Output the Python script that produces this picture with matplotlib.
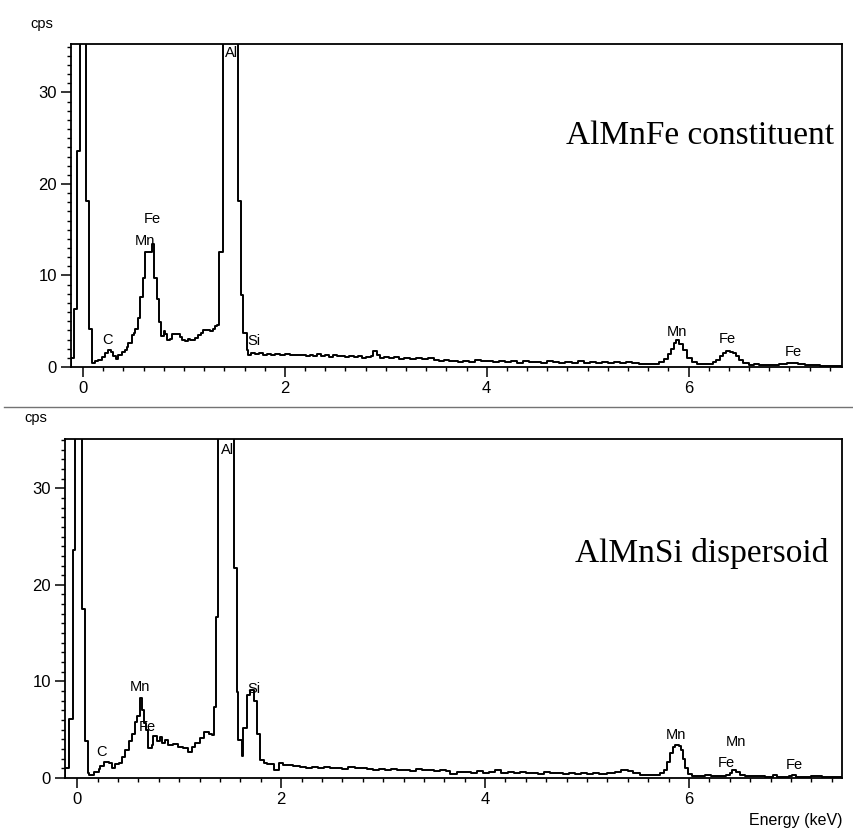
import numpy as np
import matplotlib
matplotlib.use("Agg")
import matplotlib.pyplot as plt
from matplotlib.ticker import MultipleLocator
from matplotlib.lines import Line2D

plt.rcParams['font.family'] = ['Liberation Sans', 'DejaVu Sans']

# --- AlMnFe constituent spectrum (step edges in keV, counts in cps)
e_fe = [-0.16, -0.115, -0.09, -0.056, -0.03, 0.03, 0.062, 0.092, 0.119, 0.15,
        0.185, 0.218, 0.251, 0.28, 0.30, 0.33, 0.35, 0.383, 0.415, 0.432,
        0.449, 0.482, 0.50, 0.515, 0.548, 0.564, 0.591, 0.614, 0.68, 0.703,
        0.729, 0.752, 0.772, 0.80, 0.812, 0.835, 0.86, 0.878, 0.92, 0.96,
        0.985, 1.01, 1.035, 1.06, 1.085, 1.109, 1.142, 1.165, 1.191, 1.225,
        1.257, 1.29, 1.307, 1.323, 1.35, 1.383, 1.538, 1.561, 1.587, 1.62,
        1.637, 1.66, 1.70, 1.74, 1.78, 1.82, 1.86, 1.90, 1.95, 2.00,
        2.05, 2.10, 2.15, 2.21, 2.25, 2.28, 2.32, 2.36, 2.40, 2.44,
        2.48, 2.52, 2.56, 2.60, 2.64, 2.68, 2.72, 2.76, 2.80, 2.85,
        2.87, 2.91, 2.94, 2.98, 3.03, 3.08, 3.13, 3.18, 3.24, 3.30,
        3.36, 3.42, 3.48, 3.53, 3.58, 3.63, 3.68, 3.72, 3.76, 3.82,
        3.88, 3.94, 4.00, 4.06, 4.12, 4.18, 4.24, 4.30, 4.36, 4.42,
        4.48, 4.54, 4.60, 4.66, 4.72, 4.78, 4.84, 4.90, 4.96, 5.02,
        5.08, 5.14, 5.20, 5.26, 5.32, 5.38, 5.44, 5.51, 5.71, 5.76,
        5.80, 5.83, 5.86, 5.88, 5.91, 5.94, 5.98, 6.03, 6.08, 6.12,
        6.20, 6.24, 6.27, 6.31, 6.34, 6.37, 6.41, 6.44, 6.47, 6.50,
        6.54, 6.60, 6.65, 6.70, 6.80, 6.90, 6.98, 7.08, 7.15, 7.30, 7.52]
c_fe = [0, 1.0, 6.3, 23.6, 40, 18.1, 4.2, 0.4, 0.6, 0.8,
        1.1, 1.5, 1.9, 1.6, 1.2, 0.9, 1.3, 1.6, 1.8, 2.2,
        2.6, 3.5, 3.7, 4.2, 5.3, 7.6, 9.7, 12.6, 13.4, 9.7,
        7.4, 4.9, 3.4, 3.9, 3.6, 3.0, 3.1, 3.6, 3.6, 3.3,
        3.0, 2.8, 3.1, 3.0, 2.9, 3.2, 3.5, 3.7, 4.0, 4.0,
        3.9, 4.2, 4.5, 4.6, 12.6, 40, 18.1, 7.9, 3.7, 1.9,
        1.3, 1.5, 1.4, 1.5, 1.35, 1.45, 1.3, 1.4, 1.35, 1.4,
        1.3, 1.35, 1.3, 1.2, 1.35, 1.15, 1.4, 1.2, 1.3, 1.1,
        1.3, 1.2, 1.25, 1.1, 1.2, 1.05, 1.15, 1.0, 1.1, 1.25,
        1.7, 1.3, 1.0, 1.1, 0.95, 1.05, 0.9, 1.0, 0.9, 1.0,
        0.85, 0.95, 0.8, 0.7, 0.75, 0.6, 0.7, 0.5, 0.65, 0.55,
        0.75, 0.6, 0.7, 0.55, 0.65, 0.5, 0.6, 0.45, 0.6, 0.5,
        0.55, 0.45, 0.6, 0.5, 0.4, 0.55, 0.45, 0.6, 0.4, 0.55,
        0.45, 0.5, 0.4, 0.55, 0.45, 0.5, 0.4, 0.3, 0.5, 0.9,
        1.4, 2.0, 2.6, 2.9, 2.5, 1.8, 1.0, 0.5, 0.3, 0.35,
        0.3, 0.5, 0.8, 1.2, 1.5, 1.7, 1.65, 1.5, 1.2, 0.8,
        0.4, 0.2, 0.3, 0.2, 0.25, 0.3, 0.45, 0.35, 0.2, 0.15, 0.15]

# --- AlMnSi dispersoid spectrum
e_si = [-0.16, -0.118, -0.085, -0.042, -0.02, 0.046, 0.078, 0.101, 0.111, 0.16,
        0.209, 0.225, 0.258, 0.307, 0.34, 0.373, 0.405, 0.438, 0.471, 0.503,
        0.536, 0.569, 0.591, 0.611, 0.634, 0.65, 0.676, 0.693, 0.732, 0.748,
        0.781, 0.807, 0.83, 0.863, 0.895, 0.944, 0.993, 1.042, 1.085, 1.124,
        1.157, 1.206, 1.239, 1.288, 1.32, 1.337, 1.363, 1.385, 1.542, 1.566,
        1.575, 1.614, 1.63, 1.664, 1.696, 1.738, 1.762, 1.794, 1.827, 1.86,
        1.925, 1.975, 2.02, 2.08, 2.12, 2.18, 2.24, 2.30, 2.36, 2.42,
        2.48, 2.54, 2.60, 2.66, 2.72, 2.78, 2.84, 2.90, 2.96, 3.02,
        3.08, 3.14, 3.20, 3.26, 3.32, 3.38, 3.44, 3.50, 3.56, 3.62,
        3.66, 3.72, 3.80, 3.86, 3.92, 3.98, 4.04, 4.10, 4.16, 4.22,
        4.28, 4.34, 4.40, 4.46, 4.52, 4.58, 4.64, 4.70, 4.76, 4.82,
        4.88, 4.94, 5.00, 5.06, 5.12, 5.20, 5.27, 5.33, 5.40, 5.45,
        5.52, 5.60, 5.68, 5.72, 5.75, 5.78, 5.81, 5.84, 5.86, 5.90,
        5.92, 5.94, 5.96, 5.99, 6.03, 6.10, 6.16, 6.22, 6.30, 6.36,
        6.40, 6.42, 6.46, 6.50, 6.55, 6.65, 6.75, 6.82, 6.86, 6.98,
        7.01, 7.05, 7.20, 7.30, 7.52]
c_si = [0, 1.0, 6.1, 23.6, 40, 17.5, 3.8, 0.5, 0.3, 0.65,
        0.9, 1.2, 1.7, 1.6, 1.0, 1.4, 1.5, 2.2, 2.9, 3.8,
        4.6, 5.8, 6.4, 8.3, 7.0, 5.7, 5.0, 3.1, 3.4, 4.3,
        3.8, 4.2, 3.6, 3.9, 3.4, 3.5, 3.2, 3.1, 2.7, 3.2,
        3.6, 4.1, 4.8, 4.6, 4.5, 7.3, 16.7, 40, 21.7, 8.9,
        3.9, 2.3, 5.2, 8.6, 9.1, 8.0, 4.6, 1.9, 1.5, 1.4,
        0.8, 1.5, 1.35, 1.3, 1.2, 1.15, 1.05, 1.15, 1.0, 1.1,
        1.0, 1.05, 0.95, 1.1, 1.0, 1.05, 0.95, 0.85, 0.95, 0.8,
        0.9, 0.8, 0.85, 0.75, 0.9, 0.8, 0.85, 0.75, 0.8, 0.7,
        0.4, 0.6, 0.65, 0.55, 0.7, 0.55, 0.65, 0.8, 0.55, 0.6,
        0.5, 0.6, 0.5, 0.55, 0.45, 0.6, 0.5, 0.55, 0.45, 0.55,
        0.45, 0.5, 0.4, 0.5, 0.45, 0.5, 0.65, 0.8, 0.7, 0.5,
        0.35, 0.3, 0.35, 0.5, 0.8, 1.7, 2.6, 3.2, 3.4, 3.3,
        2.9, 2.0, 1.0, 0.4, 0.25, 0.2, 0.3, 0.2, 0.25, 0.35,
        0.5, 0.8, 0.65, 0.35, 0.2, 0.25, 0.15, 0.3, 0.15, 0.2,
        0.35, 0.15, 0.2, 0.15, 0.15]

# peak labels: (text, energy, cps)
lab_fe = ["C", "Fe", "Mn", "Al", "Si", "Mn", "Fe", "Fe"]
lab_fe_e = [0.245, 0.688, 0.614, 1.47, 1.69, 5.88, 6.38, 7.04]
lab_fe_y = [2.95, 16.2, 13.8, 34.3, 2.85, 3.8, 3.1, 1.67]

lab_si = ["C", "Mn", "Fe", "Al", "Si", "Mn", "Mn", "Fe", "Fe"]
lab_si_e = [0.242, 0.618, 0.691, 1.475, 1.728, 5.87, 6.46, 6.37, 7.03]
lab_si_y = [2.64, 9.38, 5.3, 34.0, 9.2, 4.46, 3.76, 1.52, 1.35]

fig = plt.figure(figsize=(8.54, 8.31), dpi=100)
ax1 = fig.add_axes([0.0831, 0.5584, 0.9028, 0.3887])
ax2 = fig.add_axes([0.0761, 0.0638, 0.9098, 0.4079])


def style(ax, xmax, ymax):
    ax.set_xlim(-0.12, xmax)
    ax.set_ylim(0, ymax)
    ax.set_xticks([0, 2, 4, 6])
    ax.set_yticks([0, 10, 20, 30])
    ax.xaxis.set_minor_locator(MultipleLocator(0.2))
    ax.yaxis.set_minor_locator(MultipleLocator(1))
    ax.tick_params(which='major', direction='out', length=7, width=1.1,
                   labelsize=12, pad=3)
    ax.tick_params(which='minor', direction='out', length=3, width=1.0)
    for s in ax.spines.values():
        s.set_linewidth(1.3)


for ax, e, c, labs, le, ly, xmax, ymax in [
        (ax1, e_fe, c_fe, lab_fe, lab_fe_e, lab_fe_y, 7.52, 35.3),
        (ax2, e_si, c_si, lab_si, lab_si_e, lab_si_y, 7.5, 35.1)]:
    ax.step(e, c, where='post', color='k', lw=1.4)
    style(ax, xmax, ymax)
    for t, x, y in zip(labs, le, ly):
        ax.text(x, y, t, ha='center', va='center', fontsize=10.5)

ax1.text(0.816, 0.690, "AlMnFe constituent", transform=ax1.transAxes,
         ha='center', va='baseline', fontsize=24, family='Liberation Serif')
ax2.text(0.82, 0.637, "AlMnSi dispersoid", transform=ax2.transAxes,
         ha='center', va='baseline', fontsize=24, family='Liberation Serif')

fig.text(41.7 / 854, 1 - 24 / 831, "cps", ha='center', va='center', fontsize=10.5)
fig.text(35.8 / 854, 1 - 418 / 831, "cps", ha='center', va='center', fontsize=10.5)
fig.text(843 / 854, 1 - 828 / 831, "Energy (keV)", ha='right', va='bottom',
         fontsize=11.5)

# thin separator between the two spectra
fig.add_artist(Line2D([0.005, 0.998], [1 - 407 / 831, 1 - 407 / 831],
                      transform=fig.transFigure, color='0.45', lw=1.0))

fig.savefig("out.png", dpi=100, facecolor='white')
